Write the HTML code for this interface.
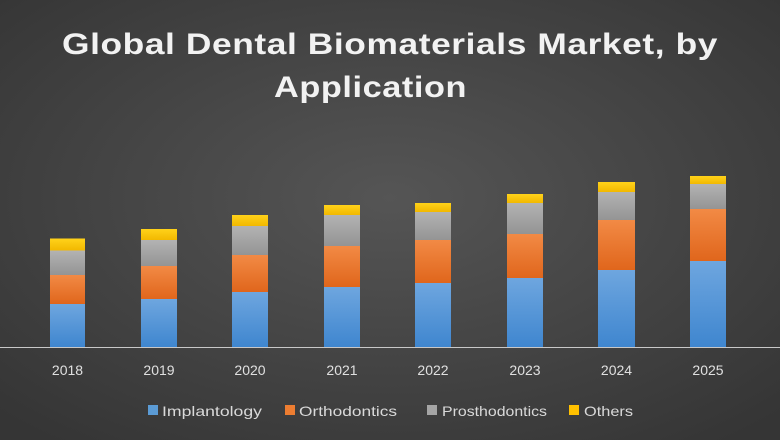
<!DOCTYPE html>
<html><head><meta charset="utf-8"><style>html,body{margin:0;padding:0;background:#404040}svg{display:block}</style></head><body>
<svg width="780" height="440" viewBox="0 0 780 440" xmlns="http://www.w3.org/2000/svg" font-family="Liberation Sans, sans-serif">
<defs>
<radialGradient id="bg" cx="50%" cy="45%" r="70%">
<stop offset="0" stop-color="#555555"/><stop offset="1" stop-color="#353535"/></radialGradient>
<linearGradient id="gb" x1="0" y1="0" x2="0" y2="1"><stop offset="0" stop-color="#6ea6df"/><stop offset="1" stop-color="#3f86cf"/></linearGradient>
<linearGradient id="go" x1="0" y1="0" x2="0" y2="1"><stop offset="0" stop-color="#f28a45"/><stop offset="1" stop-color="#e0661c"/></linearGradient>
<linearGradient id="gg" x1="0" y1="0" x2="0" y2="1"><stop offset="0" stop-color="#b3b3b3"/><stop offset="1" stop-color="#949494"/></linearGradient>
<linearGradient id="gy" x1="0" y1="0" x2="0" y2="1"><stop offset="0" stop-color="#ffd21a"/><stop offset="1" stop-color="#f2b800"/></linearGradient>
</defs>
<rect width="780" height="440" fill="url(#bg)"/>
<g fill="#f2f2f2" font-weight="bold" font-size="30" letter-spacing="0.5">
<text x="62" y="54" textLength="656" lengthAdjust="spacingAndGlyphs">Global Dental Biomaterials Market, by</text>
<text x="274" y="97" textLength="193" lengthAdjust="spacingAndGlyphs">Application</text>
</g>
<g id="bars">
<rect x="50" y="238.5" width="35" height="12" fill="url(#gy)"/><rect x="50" y="250.5" width="35" height="24.5" fill="url(#gg)"/><rect x="50" y="275" width="35" height="29" fill="url(#go)"/><rect x="50" y="304" width="35" height="43" fill="url(#gb)"/>
<rect x="141" y="229" width="36" height="11" fill="url(#gy)"/><rect x="141" y="240" width="36" height="26" fill="url(#gg)"/><rect x="141" y="266" width="36" height="33" fill="url(#go)"/><rect x="141" y="299" width="36" height="48" fill="url(#gb)"/>
<rect x="232" y="215" width="36" height="11" fill="url(#gy)"/><rect x="232" y="226" width="36" height="29" fill="url(#gg)"/><rect x="232" y="255" width="36" height="37" fill="url(#go)"/><rect x="232" y="292" width="36" height="55" fill="url(#gb)"/>
<rect x="324" y="205" width="36" height="10" fill="url(#gy)"/><rect x="324" y="215" width="36" height="31" fill="url(#gg)"/><rect x="324" y="246" width="36" height="41" fill="url(#go)"/><rect x="324" y="287" width="36" height="60" fill="url(#gb)"/>
<rect x="415" y="203" width="36" height="9" fill="url(#gy)"/><rect x="415" y="212" width="36" height="28" fill="url(#gg)"/><rect x="415" y="240" width="36" height="43" fill="url(#go)"/><rect x="415" y="283" width="36" height="64" fill="url(#gb)"/>
<rect x="507" y="194" width="36" height="9" fill="url(#gy)"/><rect x="507" y="203" width="36" height="31" fill="url(#gg)"/><rect x="507" y="234" width="36" height="44" fill="url(#go)"/><rect x="507" y="278" width="36" height="69" fill="url(#gb)"/>
<rect x="598" y="182" width="37" height="10" fill="url(#gy)"/><rect x="598" y="192" width="37" height="28" fill="url(#gg)"/><rect x="598" y="220" width="37" height="50" fill="url(#go)"/><rect x="598" y="270" width="37" height="77" fill="url(#gb)"/>
<rect x="690" y="176" width="36" height="8" fill="url(#gy)"/><rect x="690" y="184" width="36" height="25" fill="url(#gg)"/><rect x="690" y="209" width="36" height="52" fill="url(#go)"/><rect x="690" y="261" width="36" height="86" fill="url(#gb)"/>
</g>
<line x1="0" y1="347.5" x2="780" y2="347.5" stroke="#c8c8c8" stroke-width="1"/>
<g fill="#e0e0e0" font-size="14" text-anchor="middle">
<text x="67.5" y="375">2018</text><text x="159" y="375">2019</text><text x="250" y="375">2020</text><text x="342" y="375">2021</text><text x="433" y="375">2022</text><text x="525" y="375">2023</text><text x="616.5" y="375">2024</text><text x="708" y="375">2025</text>
</g>
<g font-size="14" fill="#d9d9d9">
<rect x="148" y="405" width="10" height="10" fill="#5b9bd5"/><text x="162" y="416" textLength="100" lengthAdjust="spacingAndGlyphs">Implantology</text>
<rect x="285" y="405" width="10" height="10" fill="#ed7d31"/><text x="299" y="416" textLength="98" lengthAdjust="spacingAndGlyphs">Orthodontics</text>
<rect x="427" y="405" width="10" height="10" fill="#a5a5a5"/><text x="442" y="416" textLength="105" lengthAdjust="spacingAndGlyphs">Prosthodontics</text>
<rect x="569" y="405" width="10" height="10" fill="#ffc000"/><text x="584" y="416" textLength="49" lengthAdjust="spacingAndGlyphs">Others</text>
</g>
</svg>
</body></html>
